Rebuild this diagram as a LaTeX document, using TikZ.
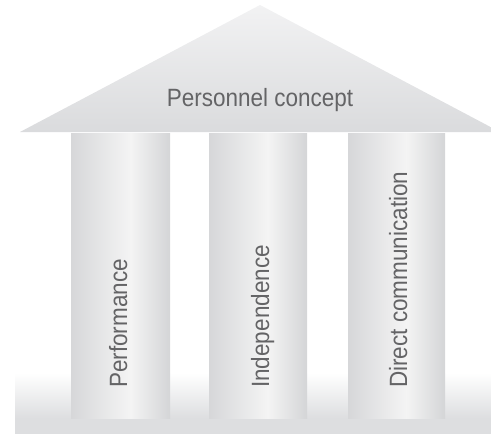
\documentclass[tikz,border=0pt]{standalone}
\usepackage{fontspec}
\setmainfont{Liberation Sans}
\definecolor{pL}{RGB}{214,215,217}
\definecolor{pM}{RGB}{244,244,244}
\definecolor{pR}{RGB}{212,213,215}
\definecolor{roofT}{RGB}{242,242,243}
\definecolor{roofB}{RGB}{218,219,221}
\definecolor{baseG}{RGB}{221,222,224}
\definecolor{txt}{RGB}{100,100,102}
\pgfdeclarehorizontalshading{pillarshade}{100bp}{color(0bp)=(pL); color(25bp)=(pL); color(55bp)=(pM); color(75bp)=(pR); color(100bp)=(pR)}
\tikzset{
  pillar/.style={shading=pillarshade},
  lbl/.style={inner sep=0pt, text=txt, font=\fontsize{25}{30}\selectfont},
  vlbl/.style={lbl, rotate=90, anchor=base west}
}
\newcommand{\cnd}[1]{\scalebox{0.9}[1]{#1}}
\begin{document}
\begin{tikzpicture}[x=1pt,y=-1pt]
\useasboundingbox (0,0) rectangle (491,434);
\clip (0,0) rectangle (491,434);
% base
\shade[top color=white, bottom color=baseG] (15,373) rectangle (495,418);
\fill[baseG] (15,418) rectangle (495,434);
% roof
\shade[top color=roofT, bottom color=roofB] (20,132) -- (260,5) -- (500,132) -- cycle;
% pillars
\shade[pillar] (71,133) rectangle (170,418);
\shade[pillar] (209,133) rectangle (307,418);
\shade[pillar] (348,133) rectangle (445,418);
% labels
\node[lbl, anchor=base] (roof) at (260,106) {\cnd{Personnel concept}};
\node[vlbl] (p1) at (127,388) {\cnd{Performance}};
\node[vlbl] (p2) at (269,388) {\cnd{Independence}};
\node[vlbl] (p3) at (407,388) {\cnd{Direct communication}};
\end{tikzpicture}
\end{document}
